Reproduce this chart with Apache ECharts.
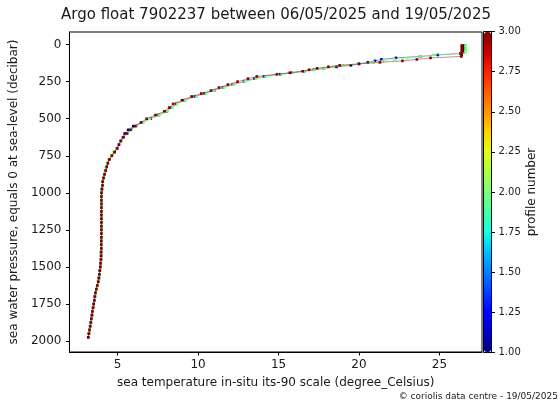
<!DOCTYPE html>
<html><head><meta charset="utf-8">
<script src="https://cdn.jsdelivr.net/npm/echarts@6/dist/echarts.min.js"></script>
<style>html,body{margin:0;padding:0;background:#fff}#c{width:560px;height:407px}</style>
</head><body><div id="c"></div>
<script>
const titleText = 'Argo float 7902237 between 06/05/2025 and 19/05/2025';
const xLabel = 'sea temperature in-situ its-90 scale (degree_Celsius)';
const yLabel = 'sea water pressure, equals 0 at sea-level (decibar)';
const cbLabel = 'profile number';
const footerText = '\u00a9 coriolis data centre - 19/05/2025';

const pressure = [6,10,20,30,40,50,60,70,80,90,100,110,120,130,140,150,160,170,180,190,200,215,230,250,270,290,310,330,350,375,400,425,450,475,500,525,550,575,600,625,650,675,700,725,750,775,800,825,850,875,900,925,950,975,1000,1025,1050,1075,1100,1125,1150,1175,1200,1225,1250,1275,1300,1325,1350,1375,1400,1425,1450,1475,1500,1525,1550,1575,1600,1625,1650,1675,1700,1725,1750,1775,1800,1825,1850,1875,1900,1925,1950,1975];

const tempProfile1 = [26.55,26.55,26.55,26.55,26.54,26.53,26.30,24.90,23.80,22.30,21.40,21.00,20.55,20.00,19.50,18.60,17.80,17.20,16.60,15.80,15.10,14.10,13.50,12.85,12.15,11.55,11.00,10.40,9.80,9.15,8.65,8.35,8.05,7.55,7.05,6.50,5.97,5.65,5.43,5.33,5.19,5.07,4.96,4.80,4.63,4.47,4.38,4.31,4.24,4.17,4.12,4.07,4.05,4.02,4.00,3.99,3.99,3.99,3.99,3.99,3.99,3.99,3.99,3.99,3.99,3.99,3.99,3.98,3.98,3.98,3.97,3.97,3.96,3.94,3.92,3.89,3.86,3.83,3.79,3.73,3.67,3.62,3.58,3.55,3.51,3.47,3.43,3.40,3.36,3.33,3.29,3.25,3.21,3.17];

const tempProfile2 = [26.64,26.64,26.64,26.64,26.63,26.62,26.40,24.60,23.80,23.00,22.20,21.50,20.90,19.95,19.00,18.40,17.80,17.20,16.60,15.90,15.20,14.20,13.60,12.90,12.20,11.60,11.00,10.50,9.90,9.20,8.70,8.40,8.10,7.60,7.00,6.60,6.20,5.85,5.60,5.38,5.20,5.05,4.92,4.74,4.58,4.44,4.34,4.26,4.20,4.15,4.11,4.07,4.04,4.02,4.01,4.00,4.00,4.00,4.00,4.00,4.00,4.00,4.00,4.00,4.00,4.00,4.00,3.99,3.99,3.99,3.98,3.98,3.97,3.95,3.93,3.90,3.87,3.84,3.80,3.74,3.68,3.63,3.59,3.56,3.52,3.48,3.44,3.41,3.37,3.34,3.30,3.26,3.22,3.18];

const tempProfile3 = [26.40,26.40,26.40,26.40,26.40,26.39,26.39,26.38,26.36,24.45,23.60,22.70,21.30,20.00,18.80,18.10,17.40,16.90,16.50,15.70,14.90,13.65,13.10,12.45,11.85,11.30,10.80,10.20,9.60,9.00,8.45,8.20,7.90,7.35,6.80,6.45,6.10,5.80,5.58,5.36,5.20,5.08,4.97,4.81,4.64,4.48,4.39,4.32,4.25,4.18,4.12,4.07,4.05,4.02,4.00,3.99,3.99,3.99,3.99,3.99,3.99,3.99,3.99,3.99,3.99,3.99,3.99,3.98,3.98,3.98,3.97,3.97,3.96,3.94,3.92,3.89,3.86,3.83,3.79,3.73,3.67,3.62,3.58,3.55,3.51,3.47,3.43,3.40,3.36,3.33,3.29,3.25,3.21,3.17];

const profileColors = ['#000080', '#7cff7a', '#800000'];
const xTicks = [5, 10, 15, 20, 25];
const yTicks = [0, 250, 500, 750, 1000, 1250, 1500, 1750, 2000];
const jetColors = ['#000080','#0000c8','#0000ff','#0040ff','#0080ff','#00c0ff','#15ffe2','#48ffaf','#7cff7a','#afff48','#e2ff15','#ffd200','#ff9700','#ff5c00','#ff2100','#c80000','#800000'];

const FONT = 'DejaVu Sans';
const TXT = '#1a1a1a';

function mk(temps) { return pressure.map((p, i) => [temps[i], p]); }
const profiles = [tempProfile1, tempProfile2, tempProfile3];

const chart = echarts.init(document.getElementById('c'), null, {renderer: 'canvas'});
const series = profiles.map((t, k) => ({
  name: 'profile ' + (k + 1),
  type: 'line',
  xAxisIndex: 0, yAxisIndex: 0,
  data: mk(t),
  symbol: 'rect',
  symbolSize: 2.6,
  showSymbol: true,
  itemStyle: {color: profileColors[k]},
  lineStyle: {color: profileColors[k], width: 1, opacity: 0.45},
  z: 2 + k,
  silent: true
}));
series.push({type: 'scatter', xAxisIndex: 1, yAxisIndex: 1, data: [], silent: true});

chart.setOption({
  animation: false,
  backgroundColor: '#fff',
  textStyle: {fontFamily: FONT},
  title: [
    {text: titleText, left: 276, top: 8, textAlign: 'center', padding: 0,
     textStyle: {fontFamily: FONT, fontSize: 15, fontWeight: 'normal', color: TXT}},
    {text: footerText, right: 2, top: 392, padding: 0,
     textStyle: {fontFamily: FONT, fontSize: 9, fontWeight: 'normal', color: TXT}}
  ],
  grid: [
    {left: 69, top: 32, width: 413, height: 320, show: true, borderColor: '#000', borderWidth: 1, backgroundColor: 'transparent', containLabel: false},
    {left: 483.5, top: 31.5, width: 8, height: 321, show: true, borderColor: '#000', borderWidth: 1, backgroundColor: 'transparent', containLabel: false, z: 10}
  ],
  visualMap: {
    type: 'continuous', min: 1, max: 3, seriesIndex: 3,
    left: 484, top: 32, itemWidth: 7, itemHeight: 320, padding: 0,
    calculable: false, hoverLink: false, realtime: false,
    inRange: {color: jetColors}
  },
  xAxis: [
    {gridIndex: 0, type: 'value', min: 2.0, max: 27.65,
     axisLine: {show: true, onZero: false, lineStyle: {color: '#000', width: 1}},
     axisTick: {show: true, customValues: xTicks, length: 3.5, lineStyle: {color: '#000'}},
     axisLabel: {customValues: xTicks, fontSize: 12, color: TXT, margin: 7, fontFamily: FONT, formatter: v => String(v)},
     splitLine: {show: false},
     name: xLabel, nameLocation: 'middle', nameGap: 25,
     nameTextStyle: {fontSize: 12, color: TXT, fontFamily: FONT}},
    {gridIndex: 1, type: 'value', min: 0, max: 1, show: false}
  ],
  yAxis: [
    {gridIndex: 0, type: 'value', inverse: true, min: -85, max: 2074,
     axisLine: {show: true, onZero: false, lineStyle: {color: '#000', width: 1}},
     axisTick: {show: true, customValues: yTicks, length: 3.5, lineStyle: {color: '#000'}},
     axisLabel: {customValues: yTicks, fontSize: 12, color: TXT, margin: 8, fontFamily: FONT, formatter: v => String(v)},
     splitLine: {show: false},
     name: yLabel, nameLocation: 'middle', nameGap: 45, nameRotate: 90,
     nameTextStyle: {fontSize: 12, color: TXT, fontFamily: FONT}},
    {gridIndex: 1, type: 'value', min: 1, max: 3, interval: 0.25, position: 'right',
     axisLine: {show: true, onZero: false, lineStyle: {color: '#000', width: 1}},
     axisTick: {show: true, length: 3.5, lineStyle: {color: '#000'}},
     axisLabel: {fontSize: 10, color: TXT, margin: 7, fontFamily: FONT, formatter: v => v.toFixed(2)},
     splitLine: {show: false},
     name: cbLabel, nameLocation: 'middle', nameGap: 34, nameRotate: 90,
     nameTextStyle: {fontSize: 12, color: TXT, fontFamily: FONT}}
  ],
  series: series
});
</script>
</body></html>
